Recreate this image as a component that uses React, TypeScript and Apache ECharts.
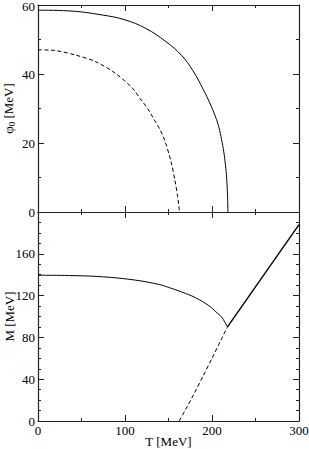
import React, { useEffect, useRef } from "react";
import * as echarts from "echarts";

// Top panel: phi_0 vs T
const phiSolidT = [0, 35, 74, 100, 124, 147, 165, 178, 190, 198, 204, 208, 211, 213.5, 215.5, 216.8, 217.8, 218.3];
const phiSolidV = [58.5, 58.3, 57.1, 55.7, 53.2, 49.4, 45.4, 41, 35.5, 31.3, 27.6, 24.5, 21, 17.5, 13.5, 10, 5, 0];
const phiDashT = [0, 20, 43, 66, 89, 108.5, 117, 126, 133, 140, 146, 153, 157.5, 160.5, 162, 162.5];
const phiDashV = [47, 46.8, 45.5, 43.6, 40.2, 35.9, 33, 30, 27, 24, 20.5, 14.5, 9, 4.5, 1.5, 0];

// Bottom panel: M vs T
const mSolidT = [0, 36, 74, 112, 140, 151, 165, 181, 197, 204.5, 211, 214.5, 217.8];
const mSolidV = [139.5, 139.2, 138, 134.8, 130.5, 127.6, 123.5, 118, 110, 104.5, 99.5, 95, 90];
const mLinT = [217.8, 300];
const mLinV = [90, 188];
const mDashT = [162.3, 170, 180, 190, 200, 210, 217.8];
const mDashV = [0, 11.5, 27, 43.5, 60, 77, 90];

const xTicks = ["0", "100", "200", "300"];

const FONT = "Liberation Serif";

const zip = (a: number[], b: number[]) => a.map((v, i) => [v, b[i]]);

export default function App() {
  const ref = useRef<HTMLDivElement>(null);
  useEffect(() => {
    if (!ref.current) return;
    const chart = echarts.init(ref.current, null, { renderer: "svg" });
    const lineC = "#000";
    const axC = "#222";
    const axisBase = (extra: any) => ({
      type: "value",
      nameMoveOverlap: false,
      axisLine: { show: true, onZero: false, lineStyle: { color: axC, width: 1.2 } },
      axisTick: { show: true, inside: true, length: 6, lineStyle: { color: axC } },
      minorTick: { show: true, length: 3, lineStyle: { color: axC } },
      splitLine: { show: false },
      minorSplitLine: { show: false },
      ...extra,
    });
    const xBase = (grid: number, pos: string, labels: boolean) =>
      axisBase({
        gridIndex: grid,
        position: pos,
        min: 0,
        max: 300,
        interval: 100,
        minorTick: { show: true, splitNumber: 2, length: 3, lineStyle: { color: axC } },
        axisLabel: labels
          ? {
              show: true,
              fontFamily: FONT,
              fontSize: 13,
              color: "#000",
              margin: 3,
              formatter: (v: number) => xTicks[Math.round(v / 100)] ?? "",
            }
          : { show: false },
      });
    const option: any = {
      animation: false,
      backgroundColor: "#fff",
      grid: [
        { left: 38, top: 5, width: 261, height: 207, containLabel: false, outerBoundsMode: "none" },
        { left: 38, top: 212, width: 261, height: 209, containLabel: false, outerBoundsMode: "none" },
      ],
      xAxis: [
        xBase(0, "bottom", false),
        xBase(0, "top", false),
        {
          ...xBase(1, "bottom", true),
          name: "T [MeV]",
          nameLocation: "middle",
          nameGap: 14,
          nameTextStyle: { fontFamily: FONT, fontSize: 13, color: "#000", verticalAlign: "top" },
        },
        xBase(1, "top", false),
      ],
      yAxis: [
        axisBase({
          gridIndex: 0,
          position: "left",
          min: 0,
          max: 60,
          interval: 20,
          minorTick: { show: true, splitNumber: 2, length: 3, lineStyle: { color: axC } },
          axisLabel: {
            fontFamily: FONT,
            fontSize: 13,
            color: "#000",
            margin: 3,
            formatter: (v: number) => (v === 60 ? "{t|60}" : String(v)),
            rich: { t: { fontFamily: FONT, fontSize: 13, color: "#000", padding: [3, 0, 0, 0] } },
          },
          name: "{a|φ}{s|0}{a| [MeV]}",
          nameLocation: "middle",
          nameRotate: 90,
          nameGap: 22,
          nameTextStyle: {
            fontFamily: FONT,
            color: "#000",
            rich: {
              a: { fontFamily: FONT, fontSize: 13, color: "#000", lineHeight: 16 },
              s: { fontFamily: FONT, fontSize: 9, color: "#000", lineHeight: 16, verticalAlign: "bottom" },
            },
          },
        }),
        axisBase({
          gridIndex: 0,
          position: "right",
          min: 0,
          max: 60,
          interval: 20,
          minorTick: { show: true, splitNumber: 2, length: 3, lineStyle: { color: axC } },
          axisLabel: { show: false },
        }),
        axisBase({
          gridIndex: 1,
          position: "left",
          min: 0,
          max: 200,
          interval: 40,
          minorTick: { show: true, splitNumber: 4, length: 3, lineStyle: { color: axC } },
          axisLabel: {
            fontFamily: FONT,
            fontSize: 13,
            color: "#000",
            margin: 3,
            formatter: (v: number) => (v >= 200 ? "" : String(v)),
          },
          name: "M [MeV]",
          nameLocation: "middle",
          nameRotate: 90,
          nameGap: 22,
          nameTextStyle: { fontFamily: FONT, fontSize: 13, color: "#000" },
        }),
        axisBase({
          gridIndex: 1,
          position: "right",
          min: 0,
          max: 200,
          interval: 40,
          minorTick: { show: true, splitNumber: 4, length: 3, lineStyle: { color: axC } },
          axisLabel: { show: false },
        }),
      ],
      series: [
        {
          type: "line",
          xAxisIndex: 0,
          yAxisIndex: 0,
          data: zip(phiSolidT, phiSolidV),
          showSymbol: false,
          smooth: 0.4,
          lineStyle: { color: lineC, width: 1 },
        },
        {
          type: "line",
          xAxisIndex: 0,
          yAxisIndex: 0,
          data: zip(phiDashT, phiDashV),
          showSymbol: false,
          smooth: 0.3,
          lineStyle: { color: lineC, width: 1, type: [4, 2.5] },
        },
        {
          type: "line",
          xAxisIndex: 2,
          yAxisIndex: 2,
          data: zip(mSolidT, mSolidV),
          showSymbol: false,
          smooth: 0.4,
          lineStyle: { color: lineC, width: 1 },
        },
        {
          type: "line",
          xAxisIndex: 2,
          yAxisIndex: 2,
          data: zip(mLinT, mLinV),
          showSymbol: false,
          lineStyle: { color: lineC, width: 1.4 },
        },
        {
          type: "line",
          xAxisIndex: 2,
          yAxisIndex: 2,
          data: zip(mDashT, mDashV),
          showSymbol: false,
          smooth: 0.3,
          lineStyle: { color: lineC, width: 1, type: [4, 2.5] },
        },
      ],
    };
    chart.setOption(option);
    return () => chart.dispose();
  }, []);
  return (
    <div
      ref={ref}
      style={{ position: "fixed", left: 0, top: 0, width: 309, height: 449, background: "#fff" }}
    />
  );
}
